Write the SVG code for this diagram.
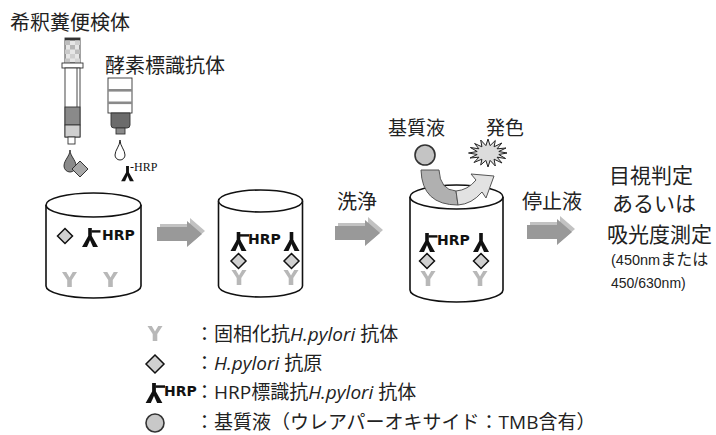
<svg xmlns="http://www.w3.org/2000/svg" xmlns:xlink="http://www.w3.org/1999/xlink" width="716" height="435" viewBox="0 0 716 435">
  <style>
    .jp { font-family: "Noto Sans CJK JP", sans-serif; fill: #222; }
    .hrp { font-family: "DejaVu Sans", sans-serif; font-weight: bold; font-size: 14px; fill: #111; }
    .lg { font-family: "Open Sans", "Noto Sans CJK JP", sans-serif; font-size: 19px; fill: #222; }
    .it { font-style: italic; }
    .well { fill: #fff; stroke: #111; stroke-width: 1.6; }
    .ln { stroke: #333; stroke-width: 0.9; }
  </style>
  <defs>
    <!-- solid-phase antibody (grey Y) -->
    <polygon id="capY" points="-7.5,0 -3.2,0 0,5.5 3.2,0 7.5,0 2.3,8 2.3,15 -2.3,15 -2.3,8" fill="#b8b8b8"/>
    <!-- antigen -->
    <path id="ag" d="M0,-7.5 L7.5,0 L0,7.5 L-7.5,0 Z" fill="#d0d0d0" stroke="#111" stroke-width="1.5"/>
    <!-- labelled antibody body (inverted Y) -->
    <g id="ab" fill="#111">
      <rect x="-1.8" y="0" width="3.6" height="9"/>
      <polygon points="-1.8,8 1.8,8 -3,19 -8,19"/>
      <polygon points="-1.8,8 1.8,8 8,19 3,19"/>
    </g>
    <g id="abH">
      <use xlink:href="#ab"/>
      <rect x="1.5" y="2.2" width="9" height="2.4" fill="#111"/>
    </g>
    <!-- 3-D block arrow -->
    <g id="blk">
      <path d="M3,-10 H33 V-16 L48,-3 L33,10 V4 H3 Z" fill="#c2c2c2"/>
      <path d="M0,-7 H30 V-13 L45,0 L30,13 V7 H0 Z" fill="#999"/>
    </g>
  </defs>

  <!-- diluted stool specimen tube -->
  <g id="specimen">
    <text class="jp" x="10" y="30" font-size="20">希釈糞便検体</text>
    <rect x="65" y="38" width="15" height="25" fill="#e6e6e6" class="ln"/>
    <rect x="65" y="38" width="15" height="2.5" fill="#333"/>
    <rect x="65" y="40.5" width="5" height="4.5" fill="#bdbdbd"/>
    <rect x="75" y="40.5" width="5" height="4.5" fill="#cfcfcf"/>
    <rect x="70" y="45" width="5" height="4.5" fill="#b5b5b5"/>
    <rect x="65" y="49.5" width="5" height="4.5" fill="#c9c9c9"/>
    <rect x="75" y="49.5" width="5" height="4.5" fill="#bdbdbd"/>
    <rect x="70" y="54" width="5" height="4.5" fill="#cfcfcf"/>
    <rect x="65" y="58.5" width="5" height="4.5" fill="#c4c4c4"/>
    <rect x="75" y="58.5" width="5" height="4.5" fill="#d5d5d5"/>
    <rect x="62" y="63" width="21" height="5" fill="#fff" class="ln"/>
    <rect x="65" y="68" width="15" height="69" fill="#fff" class="ln"/>
    <line x1="77" y1="68" x2="77" y2="107" class="ln" stroke-width="0.6"/>
    <rect x="65" y="107" width="15" height="18" fill="#8a8a8a" class="ln"/>
    <rect x="65" y="125" width="15" height="12" fill="#cfcfcf" class="ln"/>
    <rect x="68" y="137" width="7" height="7" fill="#fff" class="ln"/>
    <path d="M70,150 C70,156 76,160 76,166 A6,6 0 0 1 64,166 C64,160 70,156 70,150 Z" fill="#8a8a8a" stroke="#333" stroke-width="1"/>
    <path d="M80,161 L88,169 L80,177 L72,169 Z" fill="#a8a8a8" stroke="#333" stroke-width="1"/>
  </g>

  <!-- enzyme-labelled antibody bottle -->
  <g id="conjugate">
    <text class="jp" x="105" y="73" font-size="20">酵素標識抗体</text>
    <rect x="108" y="78" width="24" height="35" fill="#fff" class="ln"/>
    <rect x="108" y="89" width="24" height="2.6" fill="#8a8a8a"/>
    <rect x="108" y="101.5" width="24" height="2.6" fill="#8a8a8a"/>
    <path d="M111,113 H130 V125 Q130,128 127,128 H114 Q111,128 111,125 Z" fill="#6b6b6b" class="ln"/>
    <rect x="116" y="128" width="9" height="6" fill="#8a8a8a" class="ln"/>
    <path d="M120,140 C120,146 125,150 125,155 A5,5 0 0 1 115,155 C115,150 120,146 120,140 Z" fill="#fff" stroke="#222" stroke-width="1"/>
    <use xlink:href="#ab" transform="translate(127.5,166) scale(0.8)"/>
    <text x="130" y="171" font-family="Liberation Serif, serif" font-size="12" fill="#111">-HRP</text>
  </g>

  <!-- well 1: sample + labelled antibody -->
  <g id="well1">
    <path class="well" d="M46,205 V286 A47.5,12 0 0 0 141,286 V205"/>
    <ellipse class="well" cx="93.5" cy="205" rx="47.5" ry="12"/>
    <use xlink:href="#ag" x="65" y="236"/>
    <use xlink:href="#abH" x="90" y="228"/>
    <text class="hrp" x="102" y="240">HRP</text>
    <use xlink:href="#capY" x="69.5" y="272"/>
    <use xlink:href="#capY" x="110.5" y="272"/>
  </g>

  <!-- well 2: sandwich formed -->
  <g id="well2">
    <path class="well" d="M218.5,201 V286 A42,11 0 0 0 302.5,286 V201"/>
    <ellipse class="well" cx="260.5" cy="201" rx="42" ry="11"/>
    <use xlink:href="#abH" x="238.5" y="232"/>
    <text class="hrp" x="248" y="244">HRP</text>
    <use xlink:href="#ab" x="291.5" y="232"/>
    <use xlink:href="#capY" x="239" y="270"/>
    <use xlink:href="#capY" x="291" y="270"/>
    <use xlink:href="#ag" x="238.5" y="261"/>
    <use xlink:href="#ag" x="291.5" y="261"/>
  </g>

  <!-- well 3: substrate reaction -->
  <g id="well3">
    <path class="well" d="M410,197 V290 A46.5,12 0 0 0 503,290 V197"/>
    <ellipse class="well" cx="456.5" cy="197" rx="46.5" ry="12"/>
    <use xlink:href="#abH" x="427" y="233"/>
    <text class="hrp" x="437" y="245">HRP</text>
    <use xlink:href="#ab" x="481" y="233"/>
    <use xlink:href="#capY" x="428" y="271"/>
    <use xlink:href="#capY" x="480" y="271"/>
    <use xlink:href="#ag" x="427" y="261"/>
    <use xlink:href="#ag" x="481" y="261"/>
  </g>

  <!-- substrate drop and colour development -->
  <g id="substrate">
    <text class="jp" x="388" y="135" font-size="19">基質液</text>
    <text class="jp" x="486" y="135" font-size="19">発色</text>
    <circle cx="425" cy="155" r="10" fill="#c4c4c4" stroke="#333" stroke-width="1.6"/>
    <path d="M421,170 L439,170 Q440,190 456,191 L458,205 Q422,205 421,170 Z" fill="#b0b0b0" stroke="#555" stroke-width="1"/>
    <path d="M456,191 Q468,190 476,180 L471,174 L494,176 L486,198 L482,192 Q472,204 458,205 Z" fill="#e2e2e2" stroke="#555" stroke-width="1"/>
    <polygon fill="#dcdcdc" stroke="#222" stroke-width="1"
      points="507,153 498.8,154.5 505.6,158.5 497.1,157.2 502,163 494.1,159.2 495.3,166 490.1,160.4 488,167 485.9,160.4 480.7,165 481.9,159.2 474,162.5 478.9,157.2 470,158 477.2,154.5 468.5,153 477.2,151.5 470.4,147.5 478.9,148.8 474.6,143.5 481.9,146.8 480.7,140 485.9,145.6 488,139 490.1,145.6 495.3,140.5 494.1,146.8 501.8,143 497.1,148.8 506,148 498.8,151.5"/>
  </g>

  <!-- read-out -->
  <g id="result">
    <text class="jp" x="609" y="183" font-size="21">目視判定</text>
    <text class="jp" x="612" y="211" font-size="21">あるいは</text>
    <text class="jp" x="607" y="242" font-size="21">吸光度測定</text>
    <text x="611" y="265" font-family="Liberation Sans, Noto Sans CJK JP, sans-serif" font-size="14.5" fill="#222">(450nm<tspan font-family="Noto Sans CJK JP, sans-serif" font-size="16">または</tspan></text>
    <text x="611" y="288" font-family="Liberation Sans, sans-serif" font-size="14" fill="#222">450/630nm)</text>
  </g>

  <!-- process arrows -->
  <g id="connectors">
    <use xlink:href="#blk" transform="translate(157,234)"/>
    <text class="jp" x="337" y="209" font-size="20">洗浄</text>
    <use xlink:href="#blk" transform="translate(335,233)"/>
    <text class="jp" x="522" y="209" font-size="20">停止液</text>
    <use xlink:href="#blk" transform="translate(527,232)"/>
  </g>

  <!-- key -->
  <g id="legend">
    <use xlink:href="#capY" x="155" y="326"/>
    <text class="lg" x="195" y="341">：固相化抗<tspan class="it">H.pylori</tspan> 抗体</text>
    <path d="M155,355 L164,364 L155,373 L146,364 Z" fill="#d0d0d0" stroke="#111" stroke-width="1.5"/>
    <text class="lg" x="195" y="370">：<tspan class="it">H.pylori</tspan> 抗原</text>
    <use xlink:href="#abH" transform="translate(154,383) scale(1.05)"/>
    <text class="hrp" x="164" y="396" font-size="14.5">HRP</text>
    <text class="lg" x="195" y="399">：HRP標識抗<tspan class="it">H.pylori</tspan> 抗体</text>
    <circle cx="155" cy="423" r="9" fill="#c8c8c8" stroke="#333" stroke-width="1.6"/>
    <text class="lg" x="195" y="429">：基質液（ウレアパーオキサイド：TMB含有）</text>
  </g>
</svg>
